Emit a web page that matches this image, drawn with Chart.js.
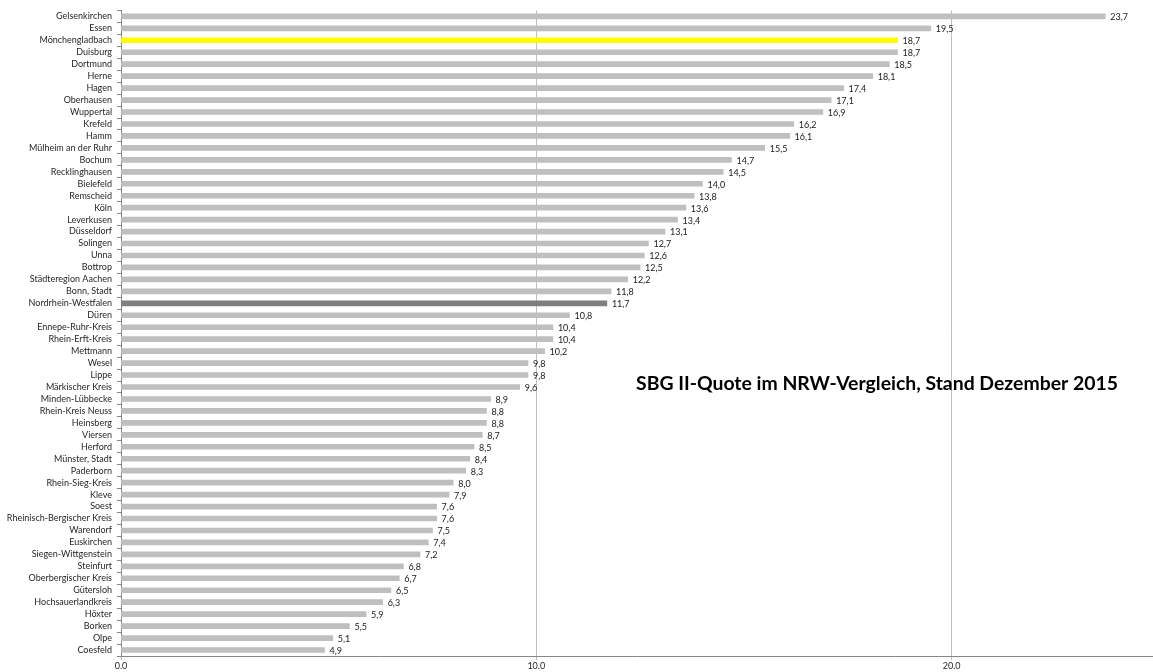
<!DOCTYPE html>
<html>
<head>
<meta charset="utf-8">
<script src="https://cdn.jsdelivr.net/npm/chart.js@4.4.0/dist/chart.umd.min.js"></script>
<style>
  html, body { margin: 0; padding: 0; background: #fff; }
  #wrap { width: 1153px; height: 672px; }
</style>
</head>
<body>
<div id="wrap"><canvas id="quote-chart" width="1153" height="672"></canvas></div>
<script>
// Kreise und kreisfreie Städte, sortiert nach Quote
const regions = [
    'Gelsenkirchen', 'Essen', 'Mönchengladbach', 'Duisburg', 'Dortmund', 'Herne',
    'Hagen', 'Oberhausen', 'Wuppertal', 'Krefeld', 'Hamm', 'Mülheim an der Ruhr',
    'Bochum', 'Recklinghausen', 'Bielefeld', 'Remscheid', 'Köln', 'Leverkusen',
    'Düsseldorf', 'Solingen', 'Unna', 'Bottrop', 'Städteregion Aachen', 'Bonn, Stadt',
    'Nordrhein-Westfalen', 'Düren', 'Ennepe-Ruhr-Kreis', 'Rhein-Erft-Kreis', 'Mettmann',
    'Wesel', 'Lippe', 'Märkischer Kreis', 'Minden-Lübbecke', 'Rhein-Kreis Neuss',
    'Heinsberg', 'Viersen', 'Herford', 'Münster, Stadt', 'Paderborn', 'Rhein-Sieg-Kreis',
    'Kleve', 'Soest', 'Rheinisch-Bergischer Kreis', 'Warendorf', 'Euskirchen',
    'Siegen-Wittgenstein', 'Steinfurt', 'Oberbergischer Kreis', 'Gütersloh',
    'Hochsauerlandkreis', 'Höxter', 'Borken', 'Olpe', 'Coesfeld'
];

// SGB II-Quote in Prozent, Dezember 2015
const quote = [
    23.7, 19.5, 18.7, 18.7, 18.5, 18.1,
    17.4, 17.1, 16.9, 16.2, 16.1, 15.5,
    14.7, 14.5, 14.0, 13.8, 13.6, 13.4,
    13.1, 12.7, 12.6, 12.5, 12.2, 11.8,
    11.7, 10.8, 10.4, 10.4, 10.2,
    9.8, 9.8, 9.6, 8.9, 8.8,
    8.8, 8.7, 8.5, 8.4, 8.3, 8.0,
    7.9, 7.6, 7.6, 7.5, 7.4,
    7.2, 6.8, 6.7, 6.5,
    6.3, 5.9, 5.5, 5.1, 4.9
];

const axisTicks = [0, 10, 20];
const chartTitle = 'SBG II-Quote im NRW-Vergleich, Stand Dezember 2015';

const highlightCity = 'Mönchengladbach';
const stateTotal = 'Nordrhein-Westfalen';

const barColors = regions.map(function(name) {
    if (name === highlightCity) return '#ffff00';
    if (name === stateTotal) return '#7f7f7f';
    return '#bfbfbf';
});

// Werte rechts neben die Balken schreiben
const valueLabels = {
    id: 'valueLabels',
    afterDatasetsDraw(chart) {
        const c = chart.ctx;
        const meta = chart.getDatasetMeta(0);
        c.save();
        c.font = '9px Lato';
        c.fillStyle = '#1a1a1a';
        c.textAlign = 'left';
        c.textBaseline = 'middle';
        meta.data.forEach(function(bar, i) {
            const txt = quote[i].toFixed(1).replace('.', ',');
            c.fillText(txt, bar.x + 5, bar.y + 1);
        });
        c.restore();
    }
};

// Titel frei im Diagramm platziert
const floatingTitle = {
    id: 'floatingTitle',
    afterDraw(chart) {
        const c = chart.ctx;
        c.save();
        c.font = 'bold 19.4px Lato';
        c.fillStyle = '#000';
        c.textAlign = 'left';
        c.textBaseline = 'middle';
        c.fillText(chartTitle, 636, 384);
        c.restore();
    }
};

const ctx = document.getElementById('quote-chart').getContext('2d');
new Chart(ctx, {
    type: 'bar',
    data: {
        labels: regions,
        datasets: [{
            data: quote,
            backgroundColor: barColors,
            barThickness: 5
        }]
    },
    options: {
        indexAxis: 'y',
        responsive: false,
        animation: false,
        layout: { padding: { top: 10, right: 0, bottom: 0, left: 0 } },
        plugins: {
            legend: { display: false },
            tooltip: { enabled: false }
        },
        scales: {
            x: {
                min: 0,
                max: 24.85,
                afterBuildTicks: function(axis) {
                    axis.ticks = axisTicks.map(function(v) { return { value: v }; });
                },
                afterFit: function(axis) { axis.height = 16; },
                border: { color: '#868686', width: 1 },
                grid: { color: '#bfbfbf', tickLength: 4 },
                ticks: {
                    font: { family: 'Lato', size: 9 },
                    color: '#262626',
                    padding: 1,
                    maxRotation: 0,
                    callback: function(value) { return Number(value).toFixed(1); }
                }
            },
            y: {
                afterFit: function(axis) { axis.width = 121; },
                border: { color: '#868686', width: 1 },
                grid: { drawOnChartArea: false, color: '#868686', tickLength: 4, offset: true },
                ticks: {
                    autoSkip: false,
                    font: { family: 'Lato', size: 9 },
                    color: '#262626',
                    padding: 5
                }
            }
        }
    },
    plugins: [valueLabels, floatingTitle]
});
</script>
</body>
</html>
